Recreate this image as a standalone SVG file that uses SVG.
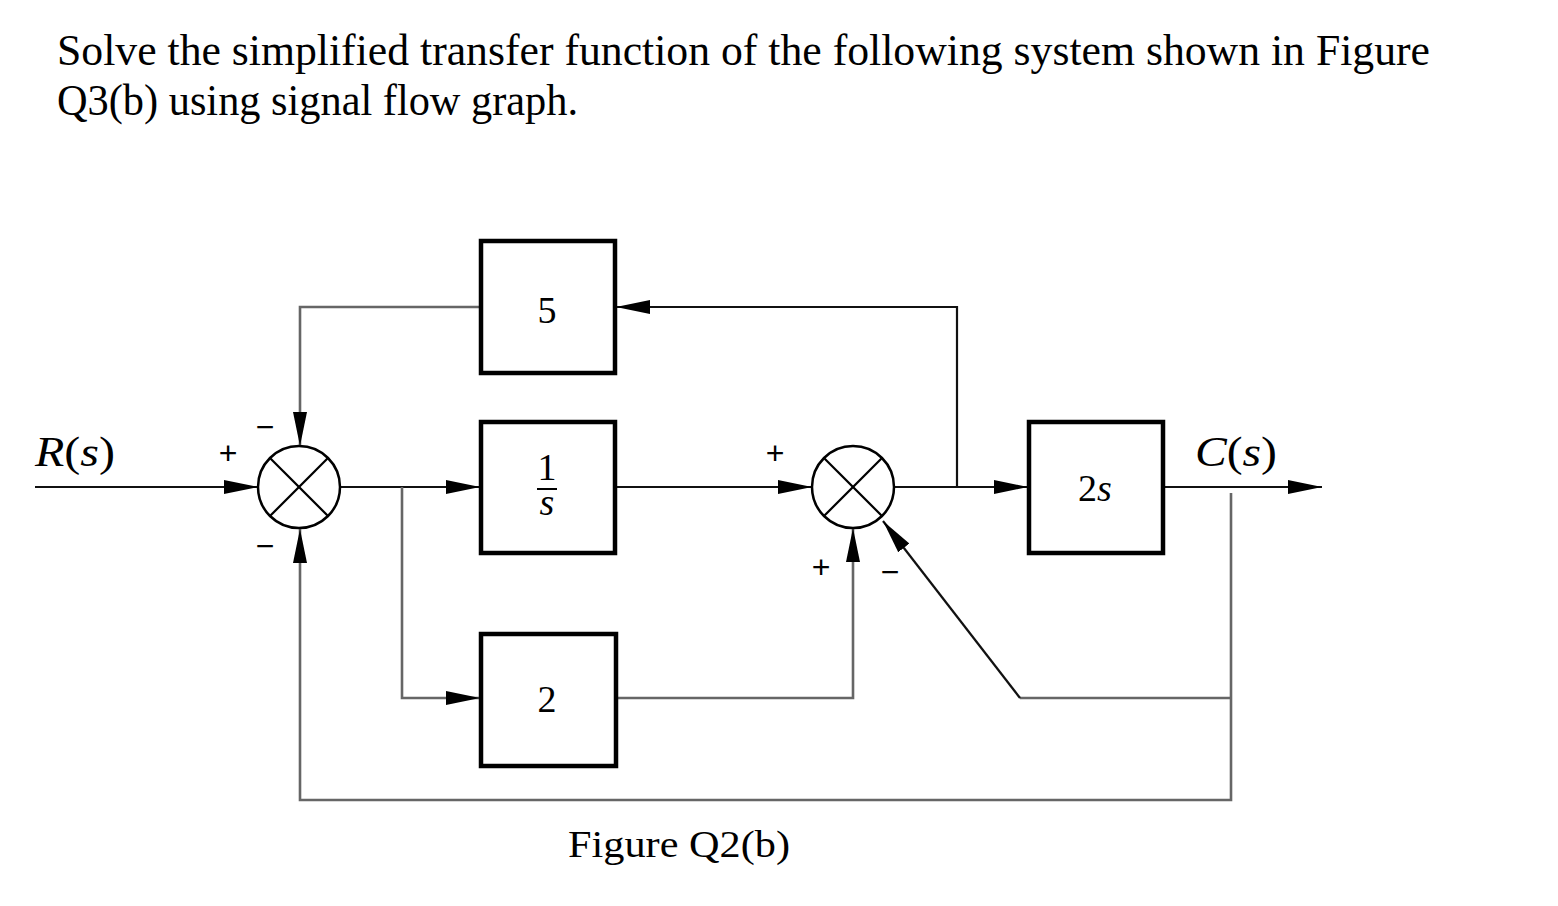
<svg xmlns="http://www.w3.org/2000/svg" width="1558" height="906" viewBox="0 0 1558 906">
<style>
.t{font-family:"Liberation Serif","Times New Roman",serif;fill:#000}
.s{font-family:"Liberation Sans",Arial,sans-serif;fill:#000;font-size:32px;text-anchor:middle}
.box{fill:#fff;stroke:#000;stroke-width:4.5}
.sum{fill:#fff;stroke:#000;stroke-width:2.5}
.x{stroke:#000;stroke-width:2.2}
.w{fill:none;stroke:#111;stroke-width:2.2}
.g{fill:none;stroke:#666;stroke-width:2.6}
.lbl{font-family:"Liberation Serif","Times New Roman",serif;font-size:38px;text-anchor:middle;fill:#000}
</style>
<defs>
<marker id="ah" markerUnits="userSpaceOnUse" markerWidth="36" markerHeight="16" refX="34" refY="8" orient="auto">
<path d="M0,1 L34,8 L0,15 z" fill="#000"/>
</marker>
</defs>
<rect width="1558" height="906" fill="#fff"/>
<text class="t" x="57" y="65" font-size="45" textLength="1373" lengthAdjust="spacingAndGlyphs">Solve the simplified transfer function of the following system shown in Figure</text>
<text class="t" x="57" y="115" font-size="45" textLength="521" lengthAdjust="spacingAndGlyphs">Q3(b) using signal flow graph.</text>

<g id="connectors">
<line class="w" x1="35" y1="487" x2="258" y2="487" marker-end="url(#ah)"/>
<polyline class="g" points="480,307 300,307 300,446" marker-end="url(#ah)"/>
<polyline class="w" points="957,487 957,307 616,307" marker-end="url(#ah)"/>
<line class="w" x1="340" y1="487" x2="480" y2="487" marker-end="url(#ah)"/>
<polyline class="g" points="402,487 402,698 480,698" marker-end="url(#ah)"/>
<line class="w" x1="616" y1="487" x2="812" y2="487" marker-end="url(#ah)"/>
<polyline class="g" points="617,698 853,698 853,528" marker-end="url(#ah)"/>
<line class="w" x1="894" y1="487" x2="1028" y2="487" marker-end="url(#ah)"/>
<line class="w" x1="1164" y1="487" x2="1322" y2="487" marker-end="url(#ah)"/>
<polyline class="g" points="1231,493 1231,800 300,800 300,529" marker-end="url(#ah)"/>
<polyline class="g" points="1231,698 1020,698"/>
<line class="w" x1="1020" y1="698" x2="883" y2="521" marker-end="url(#ah)"/>
</g>

<g id="sum1">
<circle class="sum" cx="299" cy="487" r="41"/>
<line class="x" x1="270" y1="458" x2="328" y2="516"/>
<line class="x" x1="328" y1="458" x2="270" y2="516"/>
<text class="s" x="228" y="464">+</text>
<text class="s" x="265" y="438">−</text>
<text class="s" x="265" y="557">−</text>
</g>

<g id="sum2">
<circle class="sum" cx="853" cy="487" r="41"/>
<line class="x" x1="824" y1="458" x2="882" y2="516"/>
<line class="x" x1="882" y1="458" x2="824" y2="516"/>
<text class="s" x="775" y="464">+</text>
<text class="s" x="821" y="578">+</text>
<text class="s" x="890" y="583">−</text>
</g>

<g id="box5">
<rect class="box" x="481" y="241" width="134" height="132"/>
<text class="lbl" x="547" y="323">5</text>
</g>

<g id="box1s">
<rect class="box" x="481" y="422" width="134" height="131"/>
<text class="lbl" x="547" y="480" font-size="30">1</text>
<line x1="537" y1="489" x2="557" y2="489" stroke="#000" stroke-width="2"/>
<text class="lbl" x="547" y="515" font-size="30" font-style="italic">s</text>
</g>

<g id="box2">
<rect class="box" x="481" y="634" width="135" height="132"/>
<text class="lbl" x="547" y="712">2</text>
</g>

<g id="box2s">
<rect class="box" x="1029" y="422" width="134" height="131"/>
<text class="lbl" x="1095" y="501" font-size="41">2<tspan font-style="italic">s</tspan></text>
</g>

<g id="labels">
<text class="t" x="35" y="466" font-size="43" textLength="80" lengthAdjust="spacingAndGlyphs"><tspan font-style="italic">R</tspan>(<tspan font-style="italic">s</tspan>)</text>
<text class="t" x="1195" y="466" font-size="43" textLength="82" lengthAdjust="spacingAndGlyphs"><tspan font-style="italic">C</tspan>(<tspan font-style="italic">s</tspan>)</text>
<text class="t" x="679" y="857" font-size="37" text-anchor="middle" textLength="222" lengthAdjust="spacingAndGlyphs">Figure Q2(b)</text>
</g>
</svg>
